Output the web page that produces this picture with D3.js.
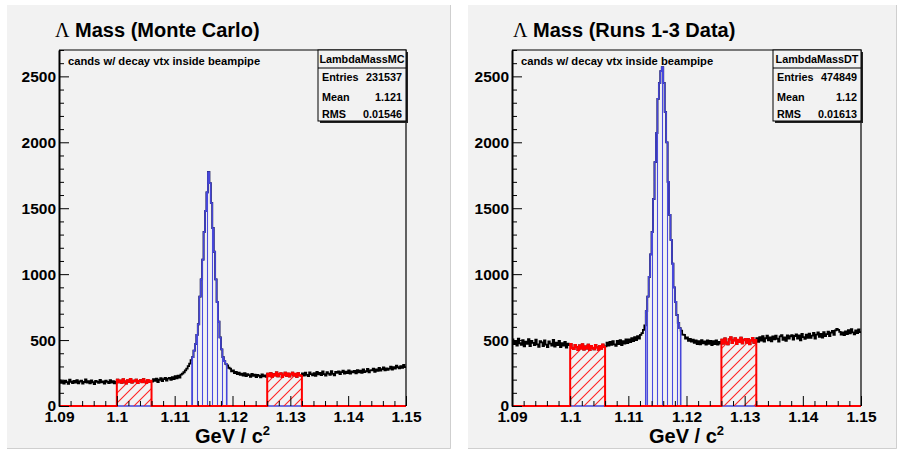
<!DOCTYPE html>
<html><head><meta charset="utf-8">
<script src="https://cdn.jsdelivr.net/npm/d3@7"></script>
<style>html,body{margin:0;padding:0;background:#fff;} svg{display:block;}</style>
</head><body><svg id="c" width="901" height="453"></svg>
<script>
// ---------- data ----------
const xDomain = [1.09, 1.15];
const binWidth = 0.00025;
const xTicks = [1.09, 1.10, 1.11, 1.12, 1.13, 1.14, 1.15];
const xMinorStep = 0.002;
const yTicks = [0, 500, 1000, 1500, 2000, 2500];
const yMinorStep = 100;
const yMax = 2700;
const signalRegion = [1.113, 1.119];
const sidebandRegions = [[1.100, 1.106], [1.126, 1.132]];

const mcCounts = [
 195,176,188,170,192,181,168,199,184,174,190,178,197,172,186,193,169,182,201,177,
 188,171,194,180,166,191,184,175,198,179,187,170,193,183,174,196,178,189,171,185,
 199,180,193,176,202,186,171,195,183,205,178,192,187,200,174,190,196,181,203,185,175,197,184,191,
 186,203,190,208,182,199,211,188,204,214,193,207,213,198,219,204,226,209,231,216,238,245,256,270,284,302,321,348,
 370,420,470,540,620,830,960,1110,1320,1480,1620,1775,1690,1540,1350,1170,960,790,640,520,430,370,340,320,
 308,290,283,262,270,249,258,241,253,236,246,231,249,226,241,234,222,244,229,238,219,236,228,217,240,224,232,221,
 245,226,249,222,241,232,254,225,243,248,220,237,252,229,246,224,240,253,231,244,221,249,236,228,
 248,231,252,236,227,255,242,233,250,229,258,240,
 251,234,262,241,230,257,246,236,265,244,233,259,
 252,263,241,257,268,245,261,249,270,246,262,255,
 266,248,272,255,269,251,277,258,264,281,255,270,
 271,283,259,277,266,289,268,280,292,270,286,275,
 284,298,276,295,283,306,294,285,303,289,311,295
];

const dataCounts = [
 505,470,492,458,510,476,463,499,452,488,471,507,455,494,479,462,503,468,449,491,
 482,455,497,466,446,489,473,458,501,451,480,462,493,447,476,459,487,443,472,461,
 470,441,432,462,446,425,459,437,468,428,452,436,465,424,455,441,430,463,444,427,456,435,466,447,
 452,480,459,487,463,491,468,456,494,470,499,462,491,473,505,478,506,484,515,493,522,500,530,512,540,552,578,612,
 720,830,980,1150,1320,1570,1850,2070,2330,2450,2540,2570,2450,2230,2000,1700,1450,1260,1080,900,790,690,630,590,
 572,541,539,512,520,495,508,488,503,479,497,470,492,468,500,475,489,465,497,471,493,462,491,470,498,466,487,474,
 503,474,512,481,468,506,521,477,497,513,470,502,485,518,476,499,509,480,507,469,497,516,479,501,
 515,487,522,496,530,489,514,533,497,521,491,527,
 505,534,510,488,528,538,502,520,495,536,512,529,
 537,504,531,543,511,536,498,546,522,509,541,516,
 548,517,533,555,512,541,558,524,547,519,560,531,
 545,563,530,556,570,540,574,584,578,562,541,559,
 537,566,545,576,551,582,558,543,573,552,581,561
];

const titles = ["Mass (Monte Carlo)", "Mass (Runs 1-3 Data)"];
const statNames = ["LambdaMassMC", "LambdaMassDT"];
const statLabels = ["Entries", "Mean", "RMS"];
const mcStats = ["231537", "1.121", "0.01546"];
const dataStats = ["474849", "1.12", "0.01613"];
const subtitle = "cands w/ decay vtx inside beampipe";
const xTitle = "GeV / c";

// ---------- drawing ----------
const svg = d3.select("#c");
const SANS = "'Liberation Sans', Arial, Helvetica, sans-serif";
const SERIF = "'Liberation Serif', 'Times New Roman', serif";

const defs = svg.append("defs");
const pr = defs.append("pattern").attr("id","hatchRed").attr("patternUnits","userSpaceOnUse")
  .attr("width",10).attr("height",10);
[[-1,1,1,-1],[0,10,10,0],[9,11,11,9]].forEach(s => {
  pr.append("line").attr("x1",s[0]).attr("y1",s[1]).attr("x2",s[2]).attr("y2",s[3])
    .style("stroke","#ff2020").style("stroke-width","1.1px");
});
const pb = defs.append("pattern").attr("id","hatchBlue").attr("patternUnits","userSpaceOnUse")
  .attr("width",5).attr("height",10);
pb.append("line").attr("x1",2.5).attr("x2",2.5).attr("y1",0).attr("y2",10)
  .style("stroke","#4a4ae0").style("stroke-width","1.1px");

const layouts = [
  {bg:[7,5,444,444], x0:59, x1:406, titleX:55},
  {bg:[468,5,429,444], x0:512, x1:861, titleX:513}
];
const panels = [
  {counts: mcCounts, stats: mcStats, name: statNames[0], title: titles[0]},
  {counts: dataCounts, stats: dataStats, name: statNames[1], title: titles[1]}
];
const yTop = 50, yBot = 406;

function inRange(c, r){ return c > r[0] && c < r[1]; }

panels.forEach((P, k) => {
  const L = layouts[k];
  const g = svg.append("g");
  g.append("rect").attr("x",L.bg[0]).attr("y",L.bg[1]).attr("width",L.bg[2]).attr("height",L.bg[3])
    .attr("fill","#f2f2f2");
  g.append("path").attr("d",`M${L.bg[0]+L.bg[2]-0.5},${L.bg[1]} V${L.bg[1]+L.bg[3]-0.5} H${L.bg[0]}`)
    .attr("stroke","#cfcfcf").attr("fill","none");

  const x = d3.scaleLinear(xDomain, [L.x0, L.x1]);
  const y = d3.scaleLinear([0, yMax], [yBot, yTop]);

  const bins = P.counts.map((v,i) => {
    const lo = xDomain[0] + i*binWidth;
    return {lo, c: lo + binWidth/2, v};
  });
  const pts = arr => arr.concat([[xDomain[1], arr[arr.length-1][1]]]);
  const line = d3.line().x(d=>x(d[0])).y(d=>y(d[1])).curve(d3.curveStepAfter);
  const area = d3.area().x(d=>x(d[0])).y0(y(0)).y1(d=>y(d[1])).curve(d3.curveStepAfter);

  // full histogram
  g.append("path").attr("d", line(pts(bins.map(b=>[b.lo,b.v]))))
    .attr("fill","none").attr("stroke","#000").attr("stroke-width",1.8);

  // signal (blue)
  const sig = bins.filter(b=>inRange(b.c, signalRegion));
  const sigPts = sig.map(b=>[b.lo,b.v]).concat([[sig[sig.length-1].lo+binWidth, sig[sig.length-1].v]]);
  g.append("path").attr("d", area(sigPts)).attr("fill","url(#hatchBlue)");
  g.append("path").attr("d", line(pts(bins.map(b=>[b.lo, inRange(b.c, signalRegion)? b.v : 0]))))
    .attr("fill","none").attr("stroke","#4646d8").attr("stroke-width",1.6);

  // sidebands (red)
  sidebandRegions.forEach(r => {
    const sb = bins.filter(b=>inRange(b.c, r));
    const sbPts = sb.map(b=>[b.lo,b.v]).concat([[sb[sb.length-1].lo+binWidth, sb[sb.length-1].v]]);
    g.append("path").attr("d", area(sbPts)).attr("fill","url(#hatchRed)");
  });
  g.append("path").attr("d", line(pts(bins.map(b=>[b.lo, sidebandRegions.some(r=>inRange(b.c,r))? b.v : 0]))))
    .attr("fill","none").attr("stroke","#ff0000").attr("stroke-width",2);

  // frame top / right
  g.append("path").attr("d",`M${L.x0},${yTop} H${L.x1} V${yBot}`)
    .attr("fill","none").attr("stroke","#000").attr("stroke-width",1.2);

  // y axis
  const yMinor = d3.range(0, yMax+1, yMinorStep).filter(v=>v%500!==0);
  const ya = g.append("g").attr("transform",`translate(${L.x0},0)`)
    .call(d3.axisLeft(y).tickValues(yTicks).tickSizeInner(-10).tickSizeOuter(0).tickPadding(3)
      .tickFormat(d=>String(d)));
  ya.append("g").call(d3.axisLeft(y).tickValues(yMinor).tickSizeInner(-5).tickSizeOuter(0).tickFormat(""))
    .select(".domain").remove();
  ya.select(".domain").attr("stroke-width",2);
  ya.selectAll("text").attr("font-family",SANS).attr("font-size",15.5).attr("font-weight","bold").attr("fill","#000");

  // x axis
  const xMinor = d3.range(0, 31).map(i => xDomain[0] + i*xMinorStep).filter((v,i)=>i%5!==0);
  const xa = g.append("g").attr("transform",`translate(0,${yBot})`)
    .call(d3.axisBottom(x).tickValues(xTicks).tickSizeInner(-10).tickSizeOuter(0).tickPadding(5)
      .tickFormat(d=>String(+d.toFixed(2))));
  xa.select(".domain").remove();
  xa.append("g").call(d3.axisBottom(x).tickValues(xMinor).tickSizeInner(-5).tickSizeOuter(0).tickFormat(""))
    .select(".domain").remove();
  xa.selectAll("text").attr("font-family",SANS).attr("font-size",15.5).attr("font-weight","bold").attr("fill","#000");

  // x title
  const xt = g.append("text").attr("x",(L.x0+L.x1)/2).attr("y",443).attr("text-anchor","middle")
    .attr("font-family",SANS).attr("font-weight","bold").attr("font-size",20);
  xt.append("tspan").text(xTitle);
  xt.append("tspan").attr("dy",-8).attr("font-size",13).text("2");

  // subtitle
  g.append("text").attr("x",L.x0+9).attr("y",65).attr("font-family",SANS).attr("font-weight","bold")
    .attr("font-size",11.2).text(subtitle);

  // stats box
  const bw = 88, bh = 71, bx = L.x1 - bw, by = yTop;
  g.append("rect").attr("x",bx+2).attr("y",by+2).attr("width",bw).attr("height",bh).attr("fill","#222");
  g.append("rect").attr("x",bx).attr("y",by).attr("width",bw).attr("height",bh)
    .attr("fill","#f2f2f2").attr("stroke","#000").attr("stroke-width",1);
  g.append("line").attr("x1",bx).attr("x2",bx+bw).attr("y1",by+18).attr("y2",by+18).attr("stroke","#000");
  g.append("text").attr("x",bx+bw/2).attr("y",by+13).attr("text-anchor","middle")
    .attr("font-family",SANS).attr("font-weight","bold").attr("font-size",10.8).text(P.name);
  const rowY = [81, 100.5, 118];
  statLabels.forEach((lab,i) => {
    g.append("text").attr("x",bx+4).attr("y",rowY[i]).attr("font-family",SANS).attr("font-weight","bold")
      .attr("font-size",10.8).text(lab);
    g.append("text").attr("x",bx+bw-4).attr("y",rowY[i]).attr("text-anchor","end").attr("font-family",SANS)
      .attr("font-weight","bold").attr("font-size",10.8).text(P.stats[i]);
  });

  // title
  const tt = g.append("text").attr("x",L.titleX).attr("y",37).attr("font-size",20);
  tt.append("tspan").attr("font-family",SERIF).text("\u039B");
  tt.append("tspan").attr("font-family",SANS).attr("font-weight","bold").text(" " + P.title);
});
</script>
</body></html>
